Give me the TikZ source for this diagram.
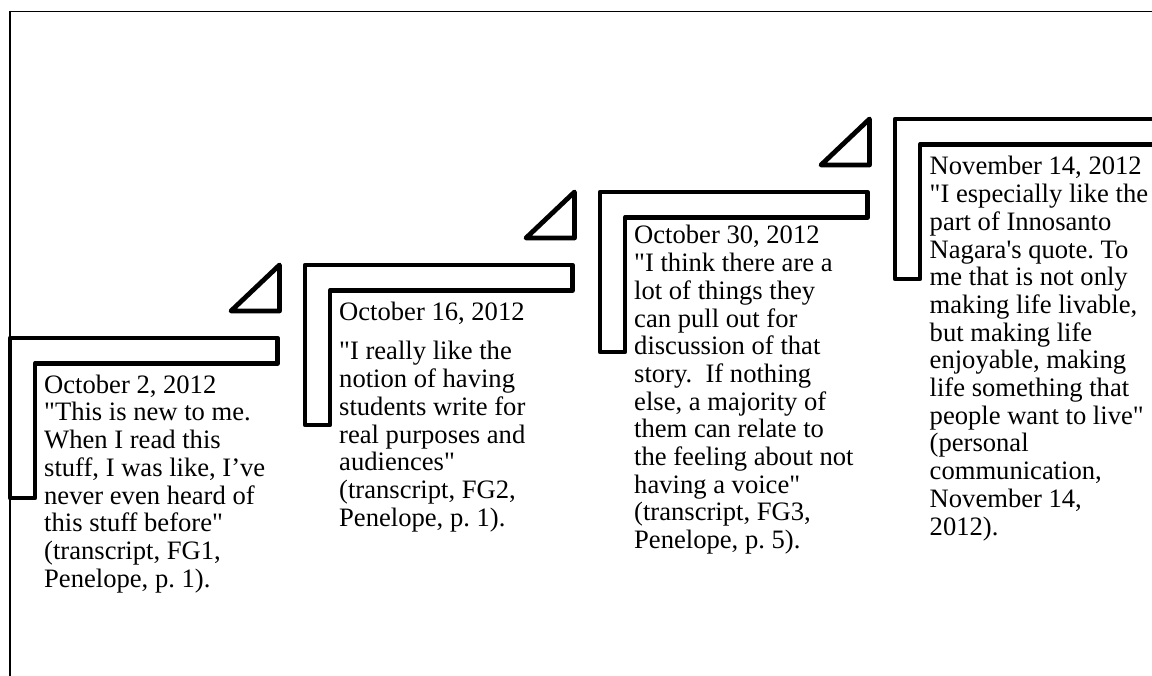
\documentclass[tikz,border=0pt]{standalone}
\usepackage{fontspec}
\setmainfont{Liberation Serif}
\frenchspacing
\tikzset{
  bracketbar/.style={draw=black, fill=white, line width=4.8pt, line join=round},
  wedge/.style={draw=black, fill=white, line width=4.8pt, line join=round},
  quote/.style={anchor=base west, inner sep=0pt, font=\fontsize{26.6}{27.7}\selectfont\frenchspacing},
  framerule/.style={draw=black}
}
\newcommand\qlines[1]{\begin{tabular}[t]{@{}l@{}}#1\end{tabular}}
\newcommand\dq{\textquotedbl}
\begin{document}
\begin{tikzpicture}[x=1pt, y=-1pt]
\useasboundingbox (0,0) rectangle (1152,676);
% outer frame (top and left edges)
\draw[framerule, line width=1.2pt] (9,11.5) -- (1152,11.5);
\draw[framerule, line width=2pt] (10,11) -- (10,676);

% stair brackets
\foreach \i in {0,...,3}{
  \pgfmathsetmacro{\dx}{295*\i}
  \pgfmathsetmacro{\dy}{-73*\i}
  \draw[bracketbar, shift={(\dx,\dy)}]
    (10,338) -- (277.5,338) -- (277.5,363.5) -- (35,363.5) -- (35,498) -- (10,498) -- cycle;
}
% triangular step markers
\foreach \i in {0,...,2}{
  \pgfmathsetmacro{\dx}{295*\i}
  \pgfmathsetmacro{\dy}{-73*\i}
  \draw[wedge, shift={(\dx,\dy)}]
    (279.5,265) -- (231,311) -- (279.5,311) -- cycle;
}

% quotations
\node[quote] (q1) at (44,393.3) {\qlines{October 2, 2012\\
\dq This is new to me.\\
When I read this\\
stuff, I was like, I’ve\\
never even heard of\\
this stuff before\dq\\
(transcript, FG1,\\
Penelope, p. 1).}};

\node[quote] (q2) at (339,320.7) {\qlines{October 16, 2012\\[11.6pt]
\dq I really like the\\
notion of having\\
students write for\\
real purposes and\\
audiences\dq\\
(transcript, FG2,\\
Penelope, p. 1).}};

\node[quote] (q3) at (634,244) {\qlines{October 30, 2012\\
\dq I think there are a\\
lot of things they\\
can pull out for\\
discussion of that\\
story.\ \ If nothing\\
else, a majority of\\
them can relate to\\
the feeling about not\\
having a voice\dq\\
(transcript, FG3,\\
Penelope, p. 5).}};

\node[quote] (q4) at (929.5,175) {\qlines{November 14, 2012\\
\dq I especially like the\\
part of Innosanto\\
Nagara\textquotesingle s quote. To\\
me that is not only\\
making life livable,\\
but making life\\
enjoyable, making\\
life something that\\
people want to live\dq\\
(personal\\
communication,\\
November 14,\\
2012).}};
\end{tikzpicture}
\end{document}
